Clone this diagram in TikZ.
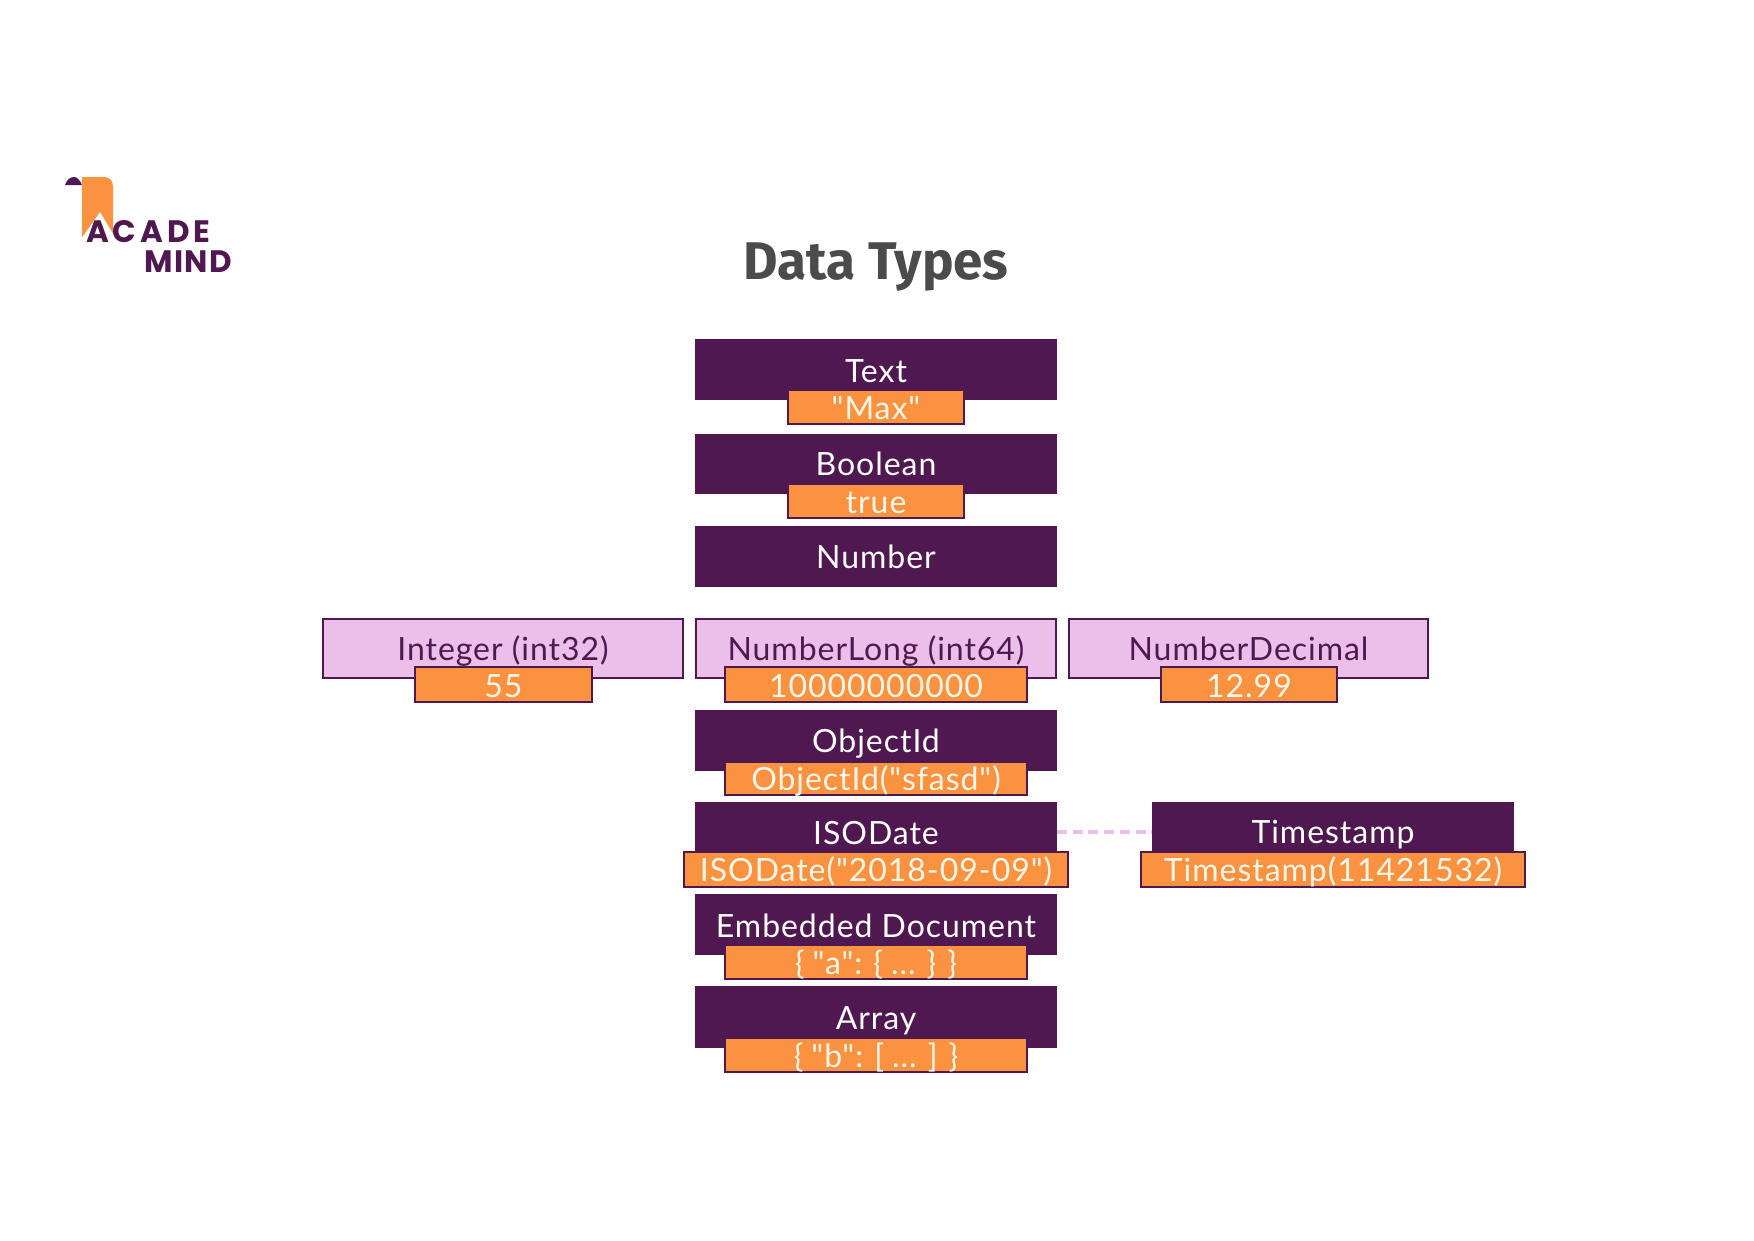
\documentclass[tikz,border=0pt]{standalone}
\usepackage{fontspec}
\setmainfont{Lato}[LetterSpace=3,Ligatures=TeXOff]
\newfontfamily\titlefont{Fira Sans}[BoldFont={Fira Sans Bold}]
\newfontfamily\logofont{Poppins}[BoldFont={Poppins Bold}]
\definecolor{plum}{HTML}{501850}
\definecolor{lilac}{HTML}{ECBFEA}
\definecolor{amber}{HTML}{FA923F}
\definecolor{cream}{HTML}{FFF6EA}
\definecolor{slate}{HTML}{4B4B4B}
\tikzset{
  boxbase/.style={rectangle,inner sep=0pt,outer sep=0pt,font=\fontsize{32}{32}\selectfont,text depth=0pt},
  darkbox/.style={boxbase,fill=plum,text=white},
  lightbox/.style={boxbase,fill=lilac,draw=plum,line width=2pt,text=plum},
  valuebox/.style={boxbase,fill=amber,draw=plum,line width=2pt,text=cream},
  linkline/.style={draw=lilac,line width=4pt,dash pattern=on 10pt off 5.7pt},
  logotext/.style={inner sep=0pt,outer sep=0pt,text=plum,anchor=base west,font=\logofont\bfseries\fontsize{31}{31}\selectfont}
}
\newcommand\bx[8]{\node[#6,text height=#7pt,minimum width={(#4-#2)*1pt},minimum height={(#5-#3)*1pt}] (#1) at ({(#2+#4)/2},{(#3+#5)/2}) {#8};}
\begin{document}
\begin{tikzpicture}[x=1pt,y=-1pt]
\useasboundingbox[fill=white] (0,0) rectangle (1754,1240);
% logo
\fill[amber] (82,177) -- (104,177) .. controls (110,177) and (113,181) .. (113,187) -- (113,238) -- (82,238) -- cycle;
\fill[white] (79,242) -- (100,212) -- (118,242) -- cycle;
\fill[plum] (65,185) .. controls (67,179) and (71,177) .. (74,177) .. controls (77,177) and (80,180) .. (82,185) -- cycle;
\node[logotext] (logoA) at (86,242) {\addfontfeature{LetterSpace=13}ACADE};
\node[logotext] (logoB) at (144,272) {\addfontfeature{LetterSpace=5}MIND};
% title
\node[inner sep=0pt,text=slate,font=\titlefont\bfseries\fontsize{53}{53}\selectfont] (title) at (876,267) {Data Types};
% main column
\bx{text}{695}{339}{1057}{400}{darkbox}{25}{Text}
\bx{bool}{695}{433.5}{1057}{494}{darkbox}{24}{Boolean}
\bx{num}{695}{525.5}{1057}{586.5}{darkbox}{24}{Number}
\bx{objid}{695}{709.5}{1057}{770.5}{darkbox}{24}{ObjectId}
\bx{iso}{695}{801.5}{1057}{862.5}{darkbox}{24}{ISODate}
\bx{ts}{1152}{801.5}{1514}{862.5}{darkbox}{23}{Timestamp}
\bx{emb}{695}{893.5}{1057}{954.5}{darkbox}{26}{Embedded Document}
\bx{arr}{695}{986}{1057}{1047.5}{darkbox}{25}{Array}
% lilac row
\bx{int}{323}{618.5}{683}{677.5}{lightbox}{25}{Integer (int32)}
\bx{long}{696}{618.5}{1056}{677.5}{lightbox}{25}{NumberLong (int64)}
\bx{dec}{1069}{618.5}{1428}{677.5}{lightbox}{25}{NumberDecimal}
% connector
\draw[linkline] (iso.east) -- (ts.west);
% values
\bx{vtext}{788}{390}{964}{424}{valuebox}{25}{"Max"}
\bx{vbool}{788}{484}{964}{518}{valuebox}{25}{true}
\bx{vint}{415}{667}{592}{702}{valuebox}{25}{55}
\bx{vlong}{725}{667}{1027}{702}{valuebox}{25}{10000000000}
\bx{vdec}{1161}{667}{1337}{702}{valuebox}{25}{12.99}
\bx{vobj}{725}{762}{1027}{795}{valuebox}{24}{ObjectId("sfasd")}
\bx{viso}{684}{851.5}{1068}{886.5}{valuebox}{25}{ISODate("2018-09-09")}
\bx{vts}{1141}{851.5}{1525}{886.5}{valuebox}{24}{Timestamp(11421532)}
\bx{vemb}{725}{945}{1027}{979}{valuebox}{25}{\spaceskip=.25em \{ "a": \{ ... \} \}}
\bx{varr}{725}{1038}{1027}{1072}{valuebox}{25}{\spaceskip=.25em \{ "b": [ ... ] \}}
\end{tikzpicture}
\end{document}
